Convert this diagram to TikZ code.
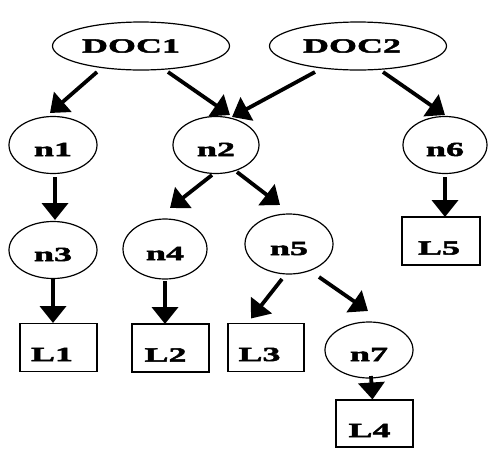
\documentclass[tikz,border=0pt]{standalone}
\usepackage{fontspec}
\newfontfamily\labfont{Liberation Serif}[UprightFont=* Bold,FakeStretch=1.8,FakeBold=2.5]
\usetikzlibrary{shapes.geometric,arrows.meta,calc}
\begin{document}
\begin{tikzpicture}[x=1pt,y=-1pt,
  lbl/.style={font=\labfont\fontsize{20pt}{22pt}\selectfont},
  docnode/.style={lbl,ellipse,draw,line width=1.2pt,inner sep=0pt,minimum width=177pt,minimum height=48pt},
  inode/.style={lbl,ellipse,draw,line width=1.2pt,inner sep=0pt,minimum width=88pt,minimum height=57pt,text height=22pt,text depth=0pt},
  leaf/.style={lbl,rectangle,draw,line width=1.4pt,inner sep=0pt,minimum width=77pt,minimum height=48pt,text height=27pt,text depth=0pt},
  arr/.style={line width=3.8pt,-{Triangle[width=26pt,length=17pt]}}
]
\useasboundingbox[fill=white] (0,0) rectangle (488,448);
% ellipses
\node[docnode] (DOC1) at (141,46) {DOC1\hspace*{20pt}};
\node[docnode] (DOC2) at (358,46) {DOC2\hspace*{12pt}};
\node[inode] (n1) at (53,145) {n1};
\node[inode,minimum width=86pt] (n2) at (216,145) {n2};
\node[inode,minimum width=84pt] (n6) at (445,145) {n6};
\node[inode] (n3) at (53,250) {n3};
\node[inode,minimum width=84pt,minimum height=60pt] (n4) at (165,249) {n4};
\node[inode,minimum height=60pt] (n5) at (289,244) {n5};
\node[inode,minimum height=56pt] (n7) at (369,350) {n7};
% leaves
\node[leaf] (L1) at (58.5,347.5) {L1\hspace*{13pt}};
\node[leaf] (L2) at (170.5,348) {L2\hspace*{10pt}};
\node[leaf,minimum width=76pt] (L3) at (266,347.5) {L3\hspace*{13pt}};
\node[leaf,minimum height=47pt] (L4) at (374.5,423.5) {L4\hspace*{10pt}};
\node[leaf,minimum width=78pt] (L5) at (441,241) {L5\hspace*{4pt}};
% arrows
\draw[arr] ($(DOC1)+(-44,26)$) -- ($(n1)+(-3,-32)$);
\draw[arr] ($(DOC1)+(27,26)$) -- ($(n2)+(14,-30)$);
\draw[arr] ($(DOC2)+(-43,26)$) -- ($(n2)+(16,-28)$);
\draw[arr] ($(DOC2)+(25,26)$) -- ($(n6)+(0,-30)$);
\draw[arr] ($(n1)+(2,32)$) -- ($(n3)+(2,-30)$);
\draw[arr] ($(n2)+(-4,30)$) -- ($(n4)+(5,-41)$);
\draw[arr] ($(n2)+(21,27)$) -- ($(n5)+(-9,-39)$);
\draw[arr] ($(n6)+(0,32)$) -- ($(L5)+(4,-24)$);
\draw[arr] ($(n3)+(0,29)$) -- ($(L1)+(-5.5,-24.5)$);
\draw[arr] ($(n4)+(0,32)$) -- ($(L2)+(-5.5,-24)$);
\draw[arr] ($(n5)+(-7,35)$) -- ($(L3)+(-15,-29)$);
\draw[arr] ($(n5)+(30,33)$) -- ($(n7)+(-1,-39)$);
\draw[arr] ($(n7)+(2,26)$) -- ($(L4)+(-2,-24)$);
\end{tikzpicture}
\end{document}
